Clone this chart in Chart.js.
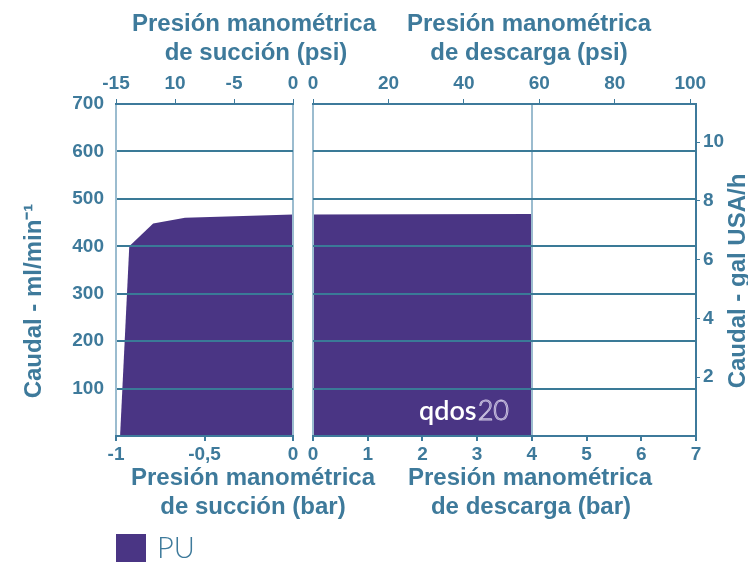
<!DOCTYPE html>
<html>
<head>
<meta charset="utf-8">
<script src="https://cdn.jsdelivr.net/npm/chart.js@4.4.1/dist/chart.umd.min.js"></script>
<style>
body{margin:0;background:#fff;}
#wrap{position:relative;width:748px;height:562px;overflow:hidden;}
canvas{position:absolute;left:0;top:0;}
</style>
</head>
<body>
<div id="wrap">
<canvas id="succion" width="748" height="562"></canvas>
<canvas id="descarga" width="748" height="562"></canvas>
</div>
<script>
// datos (bar -> ml/min)
var succionBar = [-0.977, -0.925, -0.79, -0.61, 0];
var succionCaudal = [0, 400, 448, 460, 467];
var descargaBar = [0, 4];
var descargaCaudal = [467, 468];
var serie = 'PU';
var psiSuccionTicks = ['-15', '10', '-5', '0'];
var galMax = 11.3;
var psiPorBar = 14.5038;

var azul = '#3e7a9b';
var rejilla = '#3a7a97';
var claro = '#9bbccf';
var morado = '#4a3584';
var fam = "'Liberation Sans', Arial, sans-serif";
var fTick = {family: fam, size: 19, weight: 'bold'};

function fijar(px) {
  return function(s) { if (s.isHorizontal()) s.height = px; else s.width = px; };
}
function sinCero(s) { s.ticks = s.ticks.filter(function(t){ return t.value !== 0; }); }

function puntos(xs, ys) { return xs.map(function(x, i){ return {x: x, y: ys[i]}; }); }

// textos sueltos: titulos, leyenda, marca
function textos(lista, extra) {
  return {
    id: 'textos',
    afterDraw: function(chart) {
      var ctx = chart.ctx;
      ctx.save();
      if (extra) extra(ctx, chart);
      lista.forEach(function(t) {
        ctx.save();
        ctx.translate(t.x, t.y);
        if (t.rot) ctx.rotate(t.rot);
        ctx.font = t.font || ('bold 24px ' + fam);
        ctx.fillStyle = t.color || azul;
        ctx.textAlign = t.align || 'center';
        ctx.textBaseline = 'middle';
        ctx.fillText(t.t, 0, 0);
        ctx.restore();
      });
      ctx.restore();
    }
  };
}

new Chart(document.getElementById('succion'), {
  type: 'line',
  data: {
    datasets: [{
      label: serie,
      data: puntos(succionBar, succionCaudal),
      fill: 'origin',
      backgroundColor: morado,
      borderWidth: 0,
      pointRadius: 0,
      xAxisID: 'x', yAxisID: 'y'
    }]
  },
  options: {
    responsive: false, animation: false, events: [],
    layout: {padding: {left: 0, right: 455, top: 0, bottom: 0}},
    plugins: {legend: {display: false}, tooltip: {enabled: false}},
    scales: {
      x: {
        type: 'linear', position: 'bottom', min: -1, max: 0,
        ticks: {stepSize: 0.5, color: azul, font: fTick, padding: 2, maxRotation: 0, autoSkip: false,
          callback: function(v){ return String(v).replace('.', ','); }},
        grid: {z: 1, color: function(c){ return c.tick && c.tick.value === -0.5 ? 'rgba(0,0,0,0)' : claro; },
          lineWidth: 2, tickColor: azul, tickLength: 5},
        border: {z: 2, color: azul, width: 2},
        afterFit: fijar(126)
      },
      xt: {
        type: 'linear', position: 'top', min: -15, max: 0,
        ticks: {stepSize: 5, color: azul, font: fTick, padding: 4, maxRotation: 0, autoSkip: false,
          callback: function(v, i){ return psiSuccionTicks[i]; }},
        grid: {drawOnChartArea: false, tickColor: azul, tickLength: 5},
        border: {z: 2, color: azul, width: 2},
        afterFit: fijar(104)
      },
      y: {
        type: 'linear', position: 'left', min: 0, max: 700,
        afterBuildTicks: sinCero,
        ticks: {stepSize: 100, color: azul, font: fTick, padding: 12},
        grid: {z: 1, color: rejilla, lineWidth: 2, drawTicks: false},
        border: {z: 1, color: claro, width: 2},
        afterFit: fijar(116)
      }
    }
  },
  plugins: [textos([
    {t: 'Presión manométrica', x: 254, y: 24},
    {t: 'de succión (psi)', x: 256, y: 53},
    {t: 'Presión manométrica', x: 253, y: 478},
    {t: 'de succión (bar)', x: 253, y: 507},
    {t: 'Caudal - ml/min\u207B\u00B9', x: 34, y: 301, rot: -Math.PI / 2},
    {t: serie, x: 157, y: 549, align: 'left', font: "300 29px Lato, 'Open Sans', sans-serif"}
  ], function(ctx) {
    ctx.fillStyle = morado;
    ctx.fillRect(116, 534, 30, 30);
  })]
});

new Chart(document.getElementById('descarga'), {
  type: 'line',
  data: {
    datasets: [{
      label: serie,
      data: puntos(descargaBar, descargaCaudal),
      fill: 'origin',
      backgroundColor: morado,
      borderWidth: 0,
      pointRadius: 0,
      xAxisID: 'x', yAxisID: 'y'
    }]
  },
  options: {
    responsive: false, animation: false, events: [],
    layout: {padding: {left: 313, right: 0, top: 0, bottom: 0}},
    plugins: {legend: {display: false}, tooltip: {enabled: false}},
    scales: {
      x: {
        type: 'linear', position: 'bottom', min: 0, max: 7,
        ticks: {stepSize: 1, color: azul, font: fTick, padding: 2, maxRotation: 0, autoSkip: false},
        grid: {z: 1, color: function(c){ var v = c.tick && c.tick.value; return (v === 0 || v === 4) ? claro : 'rgba(0,0,0,0)'; },
          lineWidth: 2, tickColor: azul, tickLength: 5},
        border: {z: 2, color: azul, width: 2},
        afterFit: fijar(126)
      },
      xt: {
        type: 'linear', position: 'top', min: 0, max: 7 * psiPorBar,
        ticks: {stepSize: 20, includeBounds: false, color: azul, font: fTick, padding: 4, maxRotation: 0, autoSkip: false},
        grid: {drawOnChartArea: false, tickColor: azul, tickLength: 5},
        border: {z: 2, color: azul, width: 2},
        afterFit: fijar(104)
      },
      y: {
        type: 'linear', position: 'left', min: 0, max: 700,
        afterBuildTicks: sinCero,
        ticks: {stepSize: 100, display: false},
        grid: {z: 1, color: rejilla, lineWidth: 2, drawTicks: false},
        border: {display: false},
        afterFit: fijar(0)
      },
      y2: {
        type: 'linear', position: 'right', min: 0, max: galMax,
        afterBuildTicks: sinCero,
        ticks: {stepSize: 2, includeBounds: false, color: azul, font: fTick, padding: 3},
        grid: {drawOnChartArea: false, tickColor: azul, tickLength: 4},
        border: {z: 2, color: azul, width: 2},
        afterFit: fijar(52)
      }
    }
  },
  plugins: [textos([
    {t: 'Presión manométrica', x: 529, y: 24},
    {t: 'de descarga (psi)', x: 529, y: 53},
    {t: 'Presión manométrica', x: 530, y: 478},
    {t: 'de descarga (bar)', x: 531, y: 507},
    {t: 'Caudal - gal USA/h', x: 738, y: 281, rot: -Math.PI / 2}
  ], function(ctx) {
    // marca de agua del fabricante
    ctx.font = "600 27px Lato, 'Open Sans', sans-serif";
    ctx.textBaseline = 'middle';
    ctx.textAlign = 'left';
    ctx.fillStyle = '#ffffff';
    ctx.fillText('qdos', 419, 411);
    var w = ctx.measureText('qdos').width;
    ctx.font = "300 27px Lato, 'Open Sans', sans-serif";
    ctx.strokeStyle = '#c9c0e0';
    ctx.lineWidth = 1;
    ctx.strokeText('20', 419 + w + 1, 411);
  })]
});
</script>
</body>
</html>
